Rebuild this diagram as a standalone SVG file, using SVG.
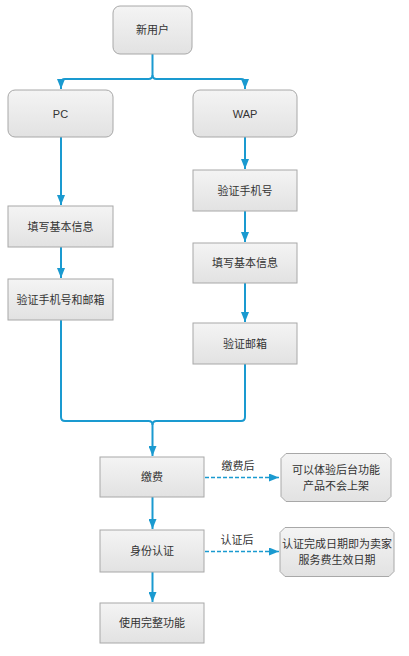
<svg xmlns="http://www.w3.org/2000/svg" width="409" height="656" viewBox="0 0 409 656">
<defs>
<linearGradient id="g" x1="0" y1="0" x2="0" y2="1">
<stop offset="0" stop-color="#f4f4f4"/>
<stop offset="1" stop-color="#e2e2e2"/>
</linearGradient>
<marker id="ah" viewBox="0 0 10 8" refX="10" refY="4" markerWidth="10" markerHeight="8" markerUnits="userSpaceOnUse" orient="auto">
<path d="M0,0 L10,4 L0,8 Z" fill="#1a9ad0"/>
</marker>
</defs>
<style>
.box{fill:url(#g);stroke:#a8a8a8;stroke-width:1}
.t{font-family:"Liberation Sans","Noto Sans CJK SC",sans-serif;font-size:11px;fill:#333;text-anchor:middle;dominant-baseline:central}
.c{fill:none;stroke:#1a9ad0;stroke-width:2}
.d{fill:none;stroke:#1a9ad0;stroke-width:1.6;stroke-dasharray:4 2}
</style>
<rect width="409" height="656" fill="#fff"/>
<g id="connectors">
<path class="c" d="M152.5,54 V75 Q152.5,79 148.5,79 H65 Q61,79 61,83 V89" marker-end="url(#ah)"/>
<path class="c" d="M152.5,75 Q152.5,79 156.5,79 H241 Q245,79 245,83 V89" marker-end="url(#ah)"/>
<path class="c" d="M61,137 V205" marker-end="url(#ah)"/>
<path class="c" d="M61,247 V278" marker-end="url(#ah)"/>
<path class="c" d="M245,137 V169" marker-end="url(#ah)"/>
<path class="c" d="M245,211 V242" marker-end="url(#ah)"/>
<path class="c" d="M245,283 V322" marker-end="url(#ah)"/>
<path class="c" d="M61,320 V417 Q61,421 65,421 H148.5 Q152.5,421 152.5,425 V456" marker-end="url(#ah)"/>
<path class="c" d="M245,364 V417 Q245,421 241,421 H156.5 Q152.5,421 152.5,425"/>
<path class="c" d="M152.5,497 V529" marker-end="url(#ah)"/>
<path class="c" d="M152.5,572 V602" marker-end="url(#ah)"/>
<path class="d" d="M205,477.5 H279" marker-end="url(#ah)"/>
<path class="d" d="M205,551.5 H279" marker-end="url(#ah)"/>
<text class="t" x="238" y="466">缴费后</text>
<text class="t" x="237" y="540">认证后</text>
</g>
<g id="n-new"><rect class="box" x="113" y="6" width="79" height="48" rx="7"/><text class="t" x="152.5" y="30">新用户</text></g>
<g id="n-pc"><rect class="box" x="8" y="90" width="105" height="47" rx="7"/><text class="t" x="60.5" y="113.5">PC</text></g>
<g id="n-wap"><rect class="box" x="193" y="90" width="104" height="47" rx="7"/><text class="t" x="245" y="113.5">WAP</text></g>
<g id="n-fill1"><rect class="box" x="8" y="206" width="105" height="41"/><text class="t" x="60.5" y="226.5">填写基本信息</text></g>
<g id="n-verify1"><rect class="box" x="8" y="279" width="105" height="41"/><text class="t" x="60.5" y="299.5">验证手机号和邮箱</text></g>
<g id="n-phone"><rect class="box" x="193" y="170" width="104" height="41"/><text class="t" x="245" y="190.5">验证手机号</text></g>
<g id="n-fill2"><rect class="box" x="193" y="243" width="104" height="40"/><text class="t" x="245" y="263">填写基本信息</text></g>
<g id="n-mail"><rect class="box" x="193" y="323" width="104" height="41"/><text class="t" x="245" y="343.5">验证邮箱</text></g>
<g id="n-pay"><rect class="box" x="100" y="457" width="104" height="40"/><text class="t" x="152" y="477">缴费</text></g>
<g id="n-id"><rect class="box" x="100" y="530" width="104" height="42"/><text class="t" x="152" y="551">身份认证</text></g>
<g id="n-full"><rect class="box" x="100" y="603" width="104" height="40"/><text class="t" x="152" y="623">使用完整功能</text></g>
<g id="n-note1"><path class="box" d="M286,453.5 H386 L391,458.5 V496.5 L386,501.5 H286 L281,496.5 V458.5 Z"/><text class="t" x="336" y="470">可以体验后台功能</text><text class="t" x="336" y="486">产品不会上架</text></g>
<g id="n-note2"><path class="box" d="M285,527.5 H389 L394,532.5 V571.5 L389,576.5 H285 L280,571.5 V532.5 Z"/><text class="t" x="337" y="544">认证完成日期即为卖家</text><text class="t" x="337" y="560">服务费生效日期</text></g>
</svg>
